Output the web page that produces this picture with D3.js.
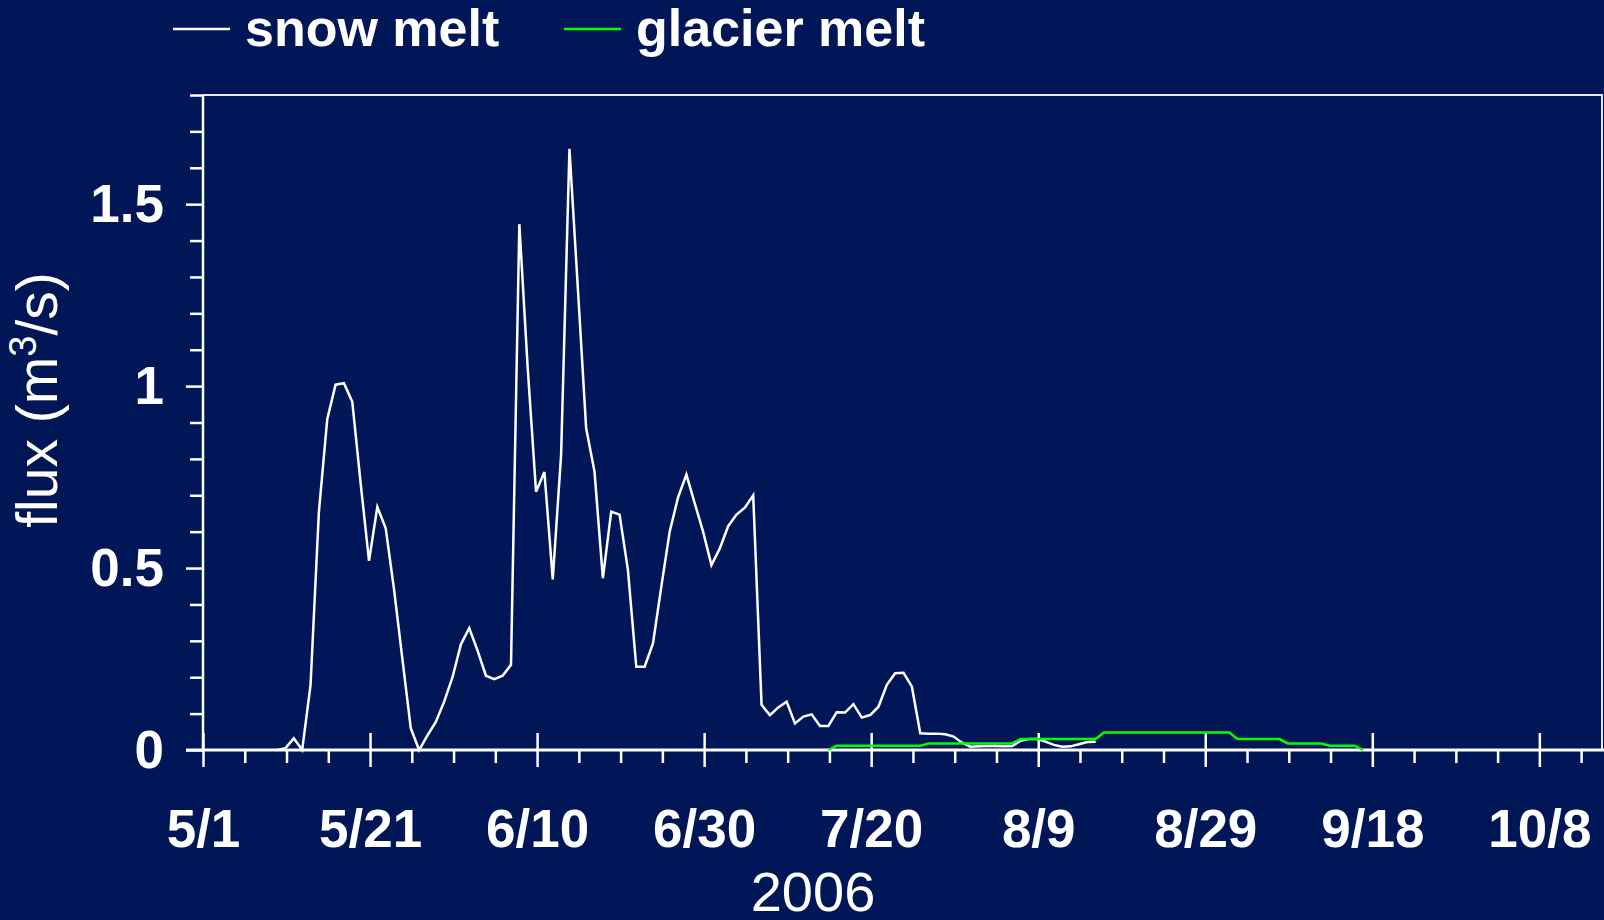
<!DOCTYPE html>
<html>
<head>
<meta charset="utf-8">
<script src="https://cdn.jsdelivr.net/npm/d3@7"></script>
<style>
  html, body { margin: 0; padding: 0; background: #011656; }
  svg { display: block; }
  text { font-family: "Liberation Sans", Arial, Helvetica, sans-serif; fill: #fff; }
</style>
</head>
<body>
<div id="chart"></div>
<script>
// daily values, stamped 21:00 UTC
const snowStart = '2006-05-09';
const snowMelt = [
  0, 0.005, 0.032, 0, 0.178, 0.654, 0.909, 1.004, 1.008, 0.957,
  0.733, 0.52, 0.668, 0.609, 0.441, 0.25, 0.06, 0, 0.04, 0.077,
  0.133, 0.2, 0.29, 0.335, 0.273, 0.204, 0.195, 0.204, 0.234, 1.445,
  1.05, 0.71, 0.764, 0.469, 0.811, 1.652, 1.271, 0.884, 0.765, 0.472,
  0.655, 0.647, 0.495, 0.229, 0.229, 0.293, 0.449, 0.6, 0.694, 0.757,
  0.678, 0.6, 0.508, 0.554, 0.615, 0.647, 0.666, 0.7, 0.124, 0.096,
  0.117, 0.133, 0.073, 0.092, 0.098, 0.066, 0.066, 0.104, 0.103, 0.126,
  0.089, 0.096, 0.119, 0.179, 0.211, 0.212, 0.174, 0.046, 0.045, 0.045,
  0.043, 0.037, 0.02, 0.009, 0.01, 0.011, 0.011, 0.01, 0.011, 0.025,
  0.03, 0.03, 0.023, 0.014, 0.009, 0.01, 0.016, 0.022, 0.023,
];

const glacierStart = '2006-07-14';
const glacierMelt = [
  0,
  0.012, 0.012, 0.012, 0.012, 0.012, 0.012, 0.012, 0.012, 0.012, 0.012, 0.012,
  0.018, 0.018, 0.018, 0.018, 0.018, 0.018, 0.018, 0.018, 0.018, 0.018, 0.018,
  0.03, 0.03, 0.03, 0.03, 0.03, 0.03, 0.03, 0.03, 0.03, 0.03,
  0.048, 0.048, 0.048, 0.048, 0.048, 0.048, 0.048, 0.048,
  0.048, 0.048, 0.048, 0.048, 0.048, 0.048, 0.048, 0.048,
  0.03, 0.03, 0.03, 0.03, 0.03, 0.03,
  0.018, 0.018, 0.018, 0.018, 0.018,
  0.012, 0.012, 0.012, 0.012,
  0,
];

const xMajorTicks = ['2006-05-01', '2006-05-21', '2006-06-10', '2006-06-30', '2006-07-20',
  '2006-08-09', '2006-08-29', '2006-09-18', '2006-10-08'];
const yLabelTicks = [0, 0.5, 1, 1.5];
const seriesNames = ['snow melt', 'glacier melt'];
const seriesColors = ['#ffffff', '#00ff00'];

const width = 1604;
const height = 920;
const area = { left: 203, right: 1602, top: 95, bottom: 750 };

const parseDay = d3.utcParse('%Y-%m-%d');

function toSeries(start, values) {
  const first = d3.utcHour.offset(parseDay(start), 21);
  return values.map((value, i) => ({ date: d3.utcDay.offset(first, i), value }));
}

const series = [toSeries(snowStart, snowMelt), toSeries(glacierStart, glacierMelt)];

const svg = d3.select('#chart')
  .append('svg')
  .attr('width', width)
  .attr('height', height);

const x = d3.scaleUtc()
  .domain([parseDay('2006-05-01'), d3.utcHour.offset(parseDay('2006-10-15'), 12)])
  .range([area.left, area.right]);

const y = d3.scaleLinear().domain([0, 1.8]).range([area.bottom, area.top]);

// frame (top + right)
svg.append('path')
  .attr('d', `M${area.left},${y(1.8)}H${area.right}V${y(0)}`)
  .attr('fill', 'none')
  .attr('stroke', '#e8e8f0')
  .attr('stroke-width', 2);

// y axis
const yMinor = d3.range(0, 1.81, 0.1).filter((d) => !yLabelTicks.some((t) => Math.abs(t - d) < 1e-6));
const yMinorAxis = svg.append('g')
  .attr('transform', `translate(${area.left},0)`)
  .call(d3.axisLeft(y).tickValues(yMinor).tickSize(13).tickFormat(''));
const yAxis = svg.append('g')
  .attr('transform', `translate(${area.left},0)`)
  .call(d3.axisLeft(y).tickValues(yLabelTicks).tickSize(17).tickPadding(22).tickFormat(d3.format('')));
[yMinorAxis, yAxis].forEach((g) => {
  g.select('.domain').remove();
  g.selectAll('.tick line').attr('stroke', '#fff').attr('stroke-width', 2.5);
});
yAxis.selectAll('.tick text')
  .attr('dy', '0.33em')
  .attr('font-size', 53)
  .attr('font-weight', 'bold')
  .attr('fill', '#fff');
svg.append('line')
  .attr('x1', area.left).attr('x2', area.left)
  .attr('y1', y(0)).attr('y2', y(1.8))
  .attr('stroke', '#fff').attr('stroke-width', 2.5);

// x axis
const xMajor = xMajorTicks.map(parseDay);
const xMinor = d3.utcDay.range(parseDay('2006-05-01'), parseDay('2006-10-15'), 5)
  .filter((d) => !xMajor.some((m) => +m === +d));
const xMinorAxis = svg.append('g')
  .attr('transform', `translate(0,${area.bottom})`)
  .call(d3.axisBottom(x).tickValues(xMinor).tickSize(13).tickFormat(''));
const xAxis = svg.append('g')
  .attr('transform', `translate(0,${area.bottom})`)
  .call(d3.axisBottom(x).tickValues(xMajor).tickSize(17).tickFormat(d3.utcFormat('%-m/%-d')));
[xMinorAxis, xAxis].forEach((g) => {
  g.select('.domain').remove();
  g.selectAll('.tick line').attr('stroke', '#fff').attr('stroke-width', 2.5);
});
xAxis.selectAll('.tick line').attr('y1', -17);
xAxis.selectAll('.tick text')
  .attr('y', 97)
  .attr('dy', null)
  .attr('font-size', 53)
  .attr('font-weight', 'bold')
  .attr('fill', '#fff');
svg.append('line')
  .attr('x1', area.left - 17).attr('x2', area.right + 2)
  .attr('y1', y(0)).attr('y2', y(0))
  .attr('stroke', '#fff').attr('stroke-width', 3);

// lines
const line = d3.line().x((d) => x(d.date)).y((d) => y(d.value));
svg.append('g')
  .selectAll('path')
  .data(series)
  .join('path')
  .attr('d', line)
  .attr('fill', 'none')
  .attr('stroke', (d, i) => seriesColors[i])
  .attr('stroke-width', 2.5)
  .attr('stroke-linejoin', 'miter');

// axis titles
const yTitle = svg.append('text')
  .attr('transform', 'translate(57,400) rotate(-90)')
  .attr('text-anchor', 'middle')
  .attr('font-size', 57);
yTitle.append('tspan').text('flux (m');
yTitle.append('tspan').attr('dy', -21).attr('font-size', 38).text('3');
yTitle.append('tspan').attr('dy', 21).text('/s)');

svg.append('text')
  .attr('x', 813)
  .attr('y', 911)
  .attr('text-anchor', 'middle')
  .attr('font-size', 56)
  .text('2006');

// legend
const legendItems = [
  { name: seriesNames[0], color: seriesColors[0], x: 173 },
  { name: seriesNames[1], color: seriesColors[1], x: 564 },
];
const legend = svg.append('g')
  .selectAll('g')
  .data(legendItems)
  .join('g')
  .attr('transform', (d) => `translate(${d.x},0)`);
legend.append('line')
  .attr('x1', 0).attr('x2', 57)
  .attr('y1', 29).attr('y2', 29)
  .attr('stroke', (d) => d.color)
  .attr('stroke-width', 2.5);
legend.append('text')
  .attr('x', 72)
  .attr('y', 46)
  .attr('font-size', 52)
  .attr('font-weight', 'bold')
  .text((d) => d.name);
</script>
</body>
</html>
